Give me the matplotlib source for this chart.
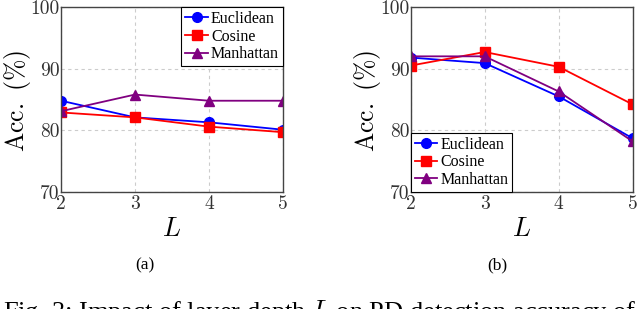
import matplotlib
matplotlib.use("Agg")
import matplotlib.pyplot as plt

plt.rcParams['mathtext.fontset'] = 'cm'
plt.rcParams['axes.formatter.use_mathtext'] = True

# layer depth
depth = [2, 3, 4, 5]
yticks = [70, 80, 90, 100]
xticks = [2, 3, 4, 5]

# (a)
a_euclid = [84.8, 82.1, 81.3, 80.1]
a_cosine = [82.9, 82.1, 80.6, 79.7]
a_manhat = [83.1, 85.8, 84.8, 84.8]

# (b)
b_euclid = [91.8, 90.9, 85.5, 78.7]
b_cosine = [90.5, 92.7, 90.3, 84.2]
b_manhat = [92.0, 92.0, 86.3, 78.2]

names = ["Euclidean", "Cosine", "Manhattan"]
colors = ["#0000ff", "#ff0000", "#800080"]
markers = ["o", "s", "^"]

fig = plt.figure(figsize=(6.4, 3.09), dpi=100)
W, H = 640, 309

def make_panel(left, series, legend_loc):
    ax = fig.add_axes([left / W, (H - 192) / H, 222 / W, 185 / H])
    for vals, name, c, m in zip(series, names, colors, markers):
        ax.plot(depth, vals, color=c, marker=m, markersize=7, lw=1.3, label=name)
    ax.set_xlim(2, 5)
    ax.set_ylim(70, 100)
    ax.set_xticks(xticks)
    ax.set_yticks(yticks)
    ax.set_xticklabels([str(t) for t in xticks], fontfamily='cmr10', fontsize=14)
    ax.set_yticklabels([str(t) for t in yticks], fontfamily='cmr10', fontsize=14)
    ax.tick_params(axis='x', length=0, pad=2, colors='#333333')
    ax.tick_params(axis='y', length=0, pad=1, colors='#333333')
    ax.grid(True, ls=(0, (3, 3)), color='#cccccc', lw=0.8)
    for s in ax.spines.values():
        s.set_color('#444444')
        s.set_linewidth(1.0)
    ax.set_ylabel(r'$\mathrm{Acc.\ (\%)}$', fontsize=18.5)
    ax.yaxis.set_label_coords(-0.125, 0.49)
    ax.set_xlabel(r'$L$', fontsize=19)
    ax.xaxis.set_label_coords(0.5, -0.13)
    leg = ax.legend(loc=legend_loc, borderaxespad=0, fancybox=False, framealpha=1,
                    edgecolor='black', prop={'family': 'Liberation Serif', 'size': 11.5},
                    handlelength=1.4, handletextpad=0.2, labelspacing=0.1,
                    borderpad=0.25, markerscale=1.0)
    leg.get_frame().set_linewidth(0.8)
    return ax

make_panel(61, [a_euclid, a_cosine, a_manhat], 'upper right')
make_panel(410.7, [b_euclid, b_cosine, b_manhat], 'lower left')

fig.text(145 / W, 1 - 265 / H, "(a)", ha='center', va='center',
         fontfamily='Liberation Serif', fontsize=12.5)
fig.text(497 / W, 1 - 265 / H, "(b)", ha='center', va='center',
         fontfamily='Liberation Serif', fontsize=12.5)
fig.text(3 / W, 1 - 319 / H, "Fig. 3: Impact of layer depth $L$ on PD detection accuracy of",
         ha='left', va='baseline', fontfamily='Liberation Serif', fontsize=19)

fig.savefig("out.png", dpi=100)
